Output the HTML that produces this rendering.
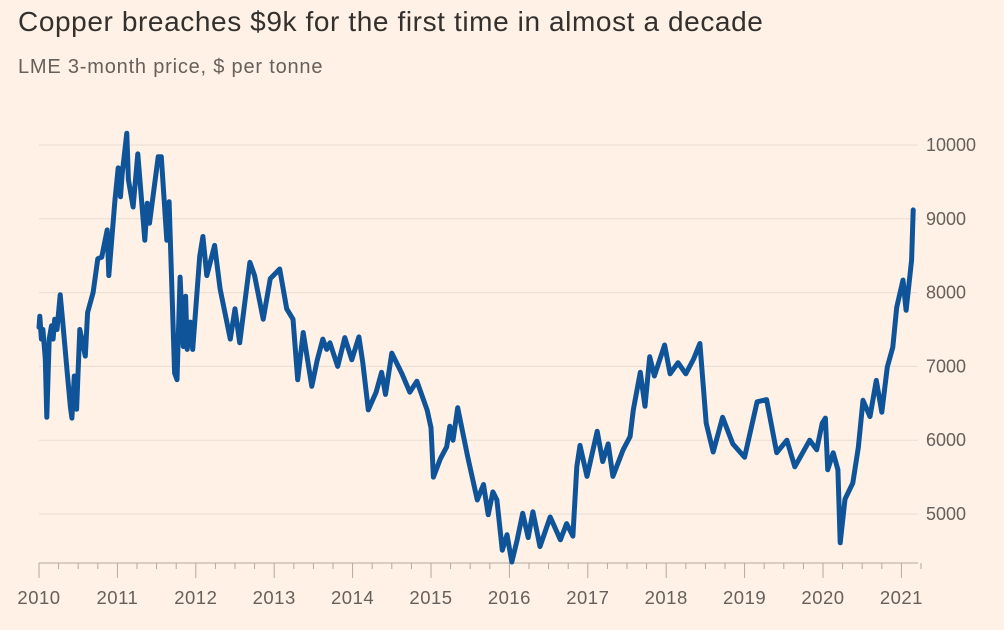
<!DOCTYPE html>
<html><head><meta charset="utf-8">
<style>
body{margin:0;background:#fff1e5;width:1004px;height:630px;overflow:hidden;font-family:"Liberation Sans",sans-serif;}
#title{position:absolute;left:18px;top:6px;font-size:28px;letter-spacing:0.6px;color:#33302e;}
#sub{position:absolute;left:18px;top:56px;font-size:20px;letter-spacing:0.8px;color:#66605c;}
svg{position:absolute;left:0;top:0;}
</style></head><body>
<div id="title">Copper breaches $9k for the first time in almost a decade</div>
<div id="sub">LME 3-month price, $ per tonne</div>
<svg id="chart" width="1004" height="630"></svg>
<script>
const yTicks=[5000,6000,7000,8000,9000,10000];
const xTicks=[2010,2011,2012,2013,2014,2015,2016,2017,2018,2019,2020,2021];
const dates=[2010.0,2010.01,2010.03,2010.05,2010.08,2010.10,2010.13,2010.16,2010.18,2010.20,2010.23,2010.27,2010.30,2010.36,2010.40,2010.42,2010.45,2010.48,2010.52,2010.59,2010.62,2010.69,2010.75,2010.80,2010.87,2010.89,2010.97,2011.01,2011.04,2011.06,2011.12,2011.14,2011.20,2011.26,2011.35,2011.38,2011.41,2011.52,2011.56,2011.63,2011.66,2011.73,2011.76,2011.80,2011.84,2011.87,2011.89,2011.93,2011.96,2012.05,2012.09,2012.14,2012.24,2012.31,2012.44,2012.50,2012.56,2012.69,2012.75,2012.86,2012.95,2013.07,2013.16,2013.24,2013.30,2013.37,2013.48,2013.55,2013.62,2013.67,2013.71,2013.81,2013.90,2013.99,2014.08,2014.13,2014.20,2014.30,2014.37,2014.42,2014.50,2014.63,2014.73,2014.82,2014.95,2015.00,2015.03,2015.12,2015.20,2015.24,2015.28,2015.34,2015.41,2015.47,2015.59,2015.67,2015.73,2015.79,2015.84,2015.91,2015.97,2016.03,2016.10,2016.17,2016.24,2016.30,2016.39,2016.52,2016.65,2016.73,2016.81,2016.86,2016.90,2016.99,2017.12,2017.19,2017.26,2017.32,2017.45,2017.54,2017.58,2017.67,2017.73,2017.79,2017.85,2017.98,2018.05,2018.15,2018.25,2018.35,2018.43,2018.51,2018.60,2018.72,2018.85,2019.0,2019.16,2019.28,2019.41,2019.54,2019.64,2019.83,2019.92,2019.99,2020.03,2020.06,2020.13,2020.19,2020.22,2020.28,2020.38,2020.45,2020.51,2020.60,2020.68,2020.75,2020.82,2020.89,2020.94,2021.02,2021.06,2021.13,2021.15];
const prices=[7530,7680,7370,7500,7100,6310,7370,7550,7370,7640,7500,7970,7640,6920,6450,6300,6870,6420,7500,7140,7730,8000,8460,8480,8850,8230,9260,9690,9300,9600,10160,9530,9160,9880,8710,9210,8940,9840,9840,8710,9230,6910,6820,8210,7270,7950,7230,7600,7230,8490,8760,8230,8640,8050,7370,7780,7320,8410,8230,7640,8190,8320,7780,7640,6820,7460,6730,7090,7370,7230,7320,7000,7390,7090,7400,7050,6410,6650,6920,6620,7180,6900,6650,6800,6410,6170,5500,5750,5910,6190,6000,6440,6080,5770,5190,5400,4990,5300,5190,4510,4720,4350,4650,5010,4680,5030,4560,4960,4650,4870,4700,5640,5930,5510,6120,5710,5950,5510,5870,6050,6410,6920,6460,7130,6870,7290,6900,7050,6900,7100,7310,6230,5840,6310,5950,5770,6520,6550,5830,6000,5640,6000,5870,6230,6300,5600,5830,5600,4610,5200,5420,5900,6540,6320,6810,6380,6990,7260,7800,8170,7760,8440,9120];

const svg=document.getElementById('chart');
const NS='http://www.w3.org/2000/svg';
const x=v=>39+(v-2010)*78.4;
const y=v=>145+(10000-v)*0.0738;
function mk(tag,attrs){const e=document.createElementNS(NS,tag);for(const k in attrs)e.setAttribute(k,attrs[k]);svg.appendChild(e);return e;}
yTicks.forEach(t=>{
  const g=mk('line',{x1:39,x2:918,y1:y(t),y2:y(t),stroke:'#e9ddd2','stroke-width':1});
  
  
  const l=mk('text',{x:926,y:y(t)+6,'font-size':18,fill:'#66605c','font-family':'Liberation Sans, sans-serif'});
  l.textContent=t;
  
  
});
const ax=mk('line',{x1:39,x2:918,y1:563,y2:563,stroke:'#b3a9a0','stroke-width':1});


for(let q=2010;q<2021.3;q+=0.25){
  const major=Math.abs(q-Math.round(q))<0.01;
  const tk=mk('line',{x1:x(q),x2:x(q),y1:563,y2:major?578:569,stroke:'#b3a9a0','stroke-width':1});
  
  
}
xTicks.forEach(t=>{
  const l=mk('text',{x:x(t),y:604,'font-size':18.5,fill:'#66605c','text-anchor':'middle','letter-spacing':'0.5','font-family':'Liberation Sans, sans-serif'});
  l.textContent=t;
  
  
});
const d=dates.map((t,i)=>(i?'L':'M')+x(t).toFixed(1)+','+y(prices[i]).toFixed(1)).join('');
const p=mk('path',{d:d,fill:'none',stroke:'#0f5499','stroke-width':5,'stroke-linejoin':'round','stroke-linecap':'round'});


</script>
</body></html>
